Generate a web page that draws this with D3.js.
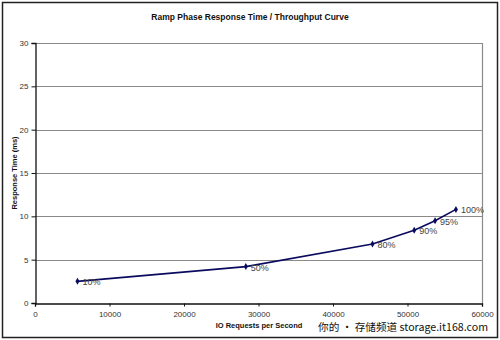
<!DOCTYPE html>
<html>
<head>
<meta charset="utf-8">
<script src="https://cdn.jsdelivr.net/npm/d3@7"></script>
<style>
  html, body { margin: 0; padding: 0; background: #fff; }
  svg { display: block; font-family: Arial, "Liberation Sans", sans-serif; }
</style>
</head>
<body>
<svg id="chart" width="500" height="340"></svg>
<script>
// Load levels and measured throughput / response time
const loadLabels = ["10%", "50%", "80%", "90%", "95%", "100%"];
const iops = [5700, 28300, 45300, 50900, 53700, 56500];
const responseMs = [2.5, 4.2, 6.8, 8.4, 9.5, 10.8];
const xTicks = [0, 10000, 20000, 30000, 40000, 50000, 60000];
const yTicks = [0, 5, 10, 15, 20, 25, 30];

const svg = d3.select("#chart");
const W = 500, H = 340;
const plot = { left: 35, right: 482, top: 43, bottom: 303 };

// outer frame
svg.append("rect")
  .attr("x", 2.5).attr("y", 2.5).attr("width", W - 5).attr("height", H - 5)
  .attr("fill", "#fff").attr("stroke", "#222").attr("stroke-width", 1.5);

const x = d3.scaleLinear().domain([0, 60000]).range([plot.left, plot.right]);
const y = d3.scaleLinear().domain([0, 30]).range([plot.bottom, plot.top]);

// gridlines
svg.append("g").selectAll("line").data(yTicks.filter(d => d > 0)).join("line")
  .attr("x1", plot.left).attr("x2", plot.right)
  .attr("y1", d => Math.round(y(d)) + 0.5).attr("y2", d => Math.round(y(d)) + 0.5)
  .attr("stroke", "#8a8a8a").attr("stroke-width", 1.2);

// right border of plot area
svg.append("line")
  .attr("x1", plot.right + 0.5).attr("x2", plot.right + 0.5)
  .attr("y1", plot.top).attr("y2", plot.bottom)
  .attr("stroke", "#8a8a8a").attr("stroke-width", 1.2);

// axes
const xAxis = d3.axisBottom(x).tickValues(xTicks).tickSize(3).tickPadding(5).tickFormat(d3.format("d"));
const yAxis = d3.axisLeft(y).tickValues(yTicks).tickSize(4).tickPadding(3);

const gx = svg.append("g").attr("transform", `translate(0,${plot.bottom + 0.5})`).call(xAxis);
const gy = svg.append("g").attr("transform", `translate(${plot.left + 0.5},0)`).call(yAxis);
[gx, gy].forEach(g => {
  g.select(".domain").attr("stroke", "#111").attr("stroke-width", 1.3);
  g.selectAll(".tick line").attr("stroke", "#111");
  g.selectAll(".tick text").attr("fill", "#333").style("font-size", "8px")
    .style("font-family", "Arial, 'Liberation Sans', sans-serif");
});

// titles
svg.append("text").attr("x", 250).attr("y", 20).attr("text-anchor", "middle")
  .style("font-size", "8.5px").style("font-weight", "bold").attr("fill", "#111")
  .text("Ramp Phase Response Time / Throughput Curve");

svg.append("text").attr("x", 259).attr("y", 328).attr("text-anchor", "middle")
  .style("font-size", "7.5px").style("font-weight", "bold").attr("fill", "#111")
  .text("IO Requests per Second");

svg.append("text")
  .attr("transform", `translate(17,${(plot.top + plot.bottom) / 2}) rotate(-90)`)
  .attr("text-anchor", "middle")
  .style("font-size", "7.5px").style("font-weight", "bold").attr("fill", "#111")
  .text("Response Time (ms)");

// curve
const pts = iops.map((v, i) => ({ x: v, y: responseMs[i], label: loadLabels[i] }));
svg.append("path").datum(pts)
  .attr("d", d3.line().x(d => x(d.x)).y(d => y(d.y)))
  .attr("fill", "none").attr("stroke", "#0a0a5e").attr("stroke-width", 1.6);

svg.append("g").selectAll("path").data(pts).join("path")
  .attr("transform", d => `translate(${x(d.x)},${y(d.y)})`)
  .attr("d", d3.symbol(d3.symbolDiamond, 14))
  .attr("fill", "#0a0a5e");

svg.append("g").selectAll("text").data(pts).join("text")
  .attr("x", d => x(d.x) + 5).attr("y", d => y(d.y) + 4)
  .style("font-size", "9px").attr("fill", "#444")
  .text(d => d.label);

// site mark
svg.append("text").attr("x", 318).attr("y", 331)
  .attr("textLength", 170).attr("lengthAdjust", "spacingAndGlyphs")
  .style("font-size", "10.5px").attr("fill", "#111")
  .style("font-family", "'Noto Sans CJK SC', sans-serif")
  .text("你的 • 存储频道 storage.it168.com");
</script>
</body>
</html>
